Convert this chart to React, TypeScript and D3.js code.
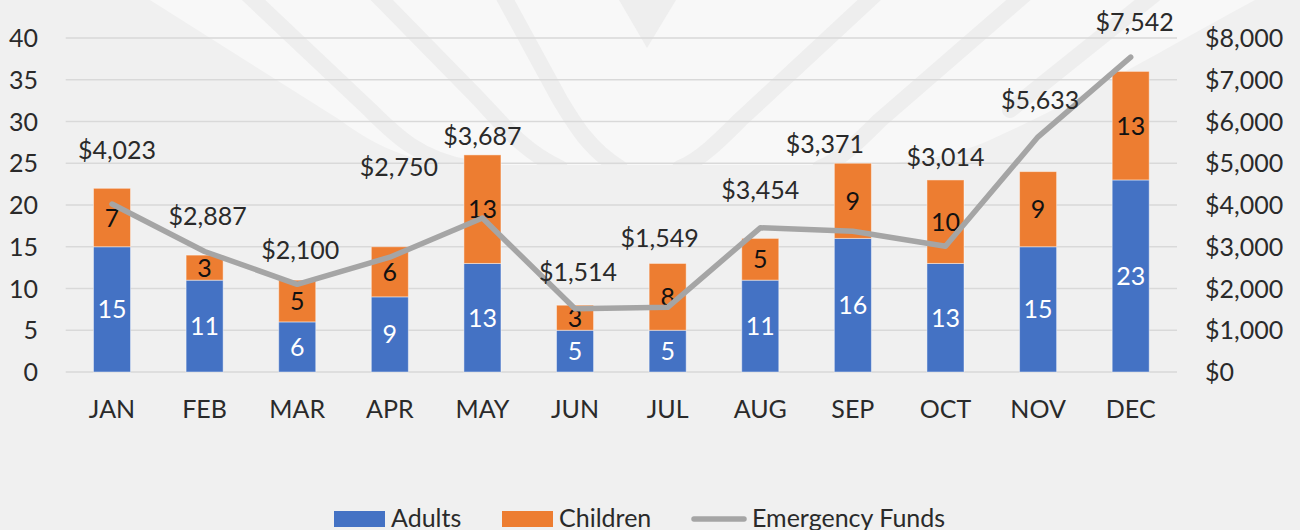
import React from "react";
import * as d3 from "d3";

const months = ["JAN", "FEB", "MAR", "APR", "MAY", "JUN", "JUL", "AUG", "SEP", "OCT", "NOV", "DEC"];
const adults = [15, 11, 6, 9, 13, 5, 5, 11, 16, 13, 15, 23];
const children = [7, 3, 5, 6, 13, 3, 8, 5, 9, 10, 9, 13];
const funds = [4023, 2887, 2100, 2750, 3687, 1514, 1549, 3454, 3371, 3014, 5633, 7542];
const leftTicks = [0, 5, 10, 15, 20, 25, 30, 35, 40];
const rightTicks = [0, 1000, 2000, 3000, 4000, 5000, 6000, 7000, 8000];
// manual label offsets (px) for the funds data labels
const fundLabelDx = [5, 3, 3, 9, 0, 3, -8, 0, -28, 0, 2, 4];
const fundLabelDy = [-54, -35, -34, -90, -82, -37, -69, -38, -87, -89, -37, -35];

const W = 1300;
const H = 530;
const FONT = "Lato, 'Open Sans', sans-serif";
const FW = 400;
const TXT = "#2a2a2a";
const BLUE = "#4472C4";
const ORANGE = "#ED7D31";
const GRAY = "#A5A5A5";

export default function App() {
  const x = d3.scaleBand<string>().domain(months).range([65.7, 1177]).paddingInner(0.6).paddingOuter(0.3);
  const yL = d3.scaleLinear().domain([0, 40]).range([372, 38]);
  const yR = d3.scaleLinear().domain([0, 8000]).range([372, 38]);
  const cx = (m: string) => (x(m) as number) + x.bandwidth() / 2;
  const line = d3
    .line<number>()
    .x((_, i) => cx(months[i]))
    .y((d) => yR(d));
  const fmt = (v: number) => "$" + d3.format(",")(v);
  const tp = { fontFamily: FONT, fontSize: 25, fontWeight: FW } as const;

  return (
    <svg width={W} height={H} style={{ position: "absolute", left: 0, top: 0, display: "block" }}>
      <defs>
        <clipPath id="wm">
          <path d="M150,0 L1255,0 C1180,40 1080,100 990,140 C950,158 900,165 850,165 L470,165 C420,165 380,150 340,120 Z" />
        </clipPath>
      </defs>
      <rect x={0} y={0} width={W} height={H} fill="#f0f0f0" />
      {/* watermark */}
      <g clipPath="url(#wm)">
        <rect x={0} y={0} width={W} height={200} fill="#f8f8f8" />
        <g stroke="#eeeeee" strokeWidth={16} fill="none" strokeLinecap="round">
          <path d="M243,-10 L370,110 C395,135 420,160 470,168" />
          <path d="M372,-10 L470,90 C500,120 520,150 560,168" />
          <path d="M500,-10 L560,100 C575,125 590,150 620,168" />
          <path d="M880,-10 L740,120 C720,140 700,160 680,168" />
          <path d="M1030,-10 L880,120 C860,140 840,160 820,168" />
          <path d="M1160,-10 L1010,110" />
        </g>
        <path d="M619,0 L676,0 L647,48 Z" fill="#eeeeee" />
      </g>

      {/* gridlines */}
      {leftTicks.map((t) => (
        <line key={t} x1={65.7} x2={1177} y1={yL(t)} y2={yL(t)} stroke="#d9d9d9" strokeWidth={1.6} />
      ))}

      {/* left axis labels */}
      {leftTicks.map((t) => (
        <text key={t} x={38} y={yL(t)} dy="0.36em" textAnchor="end" {...tp} fill={TXT}>
          {t}
        </text>
      ))}
      {/* right axis labels */}
      {rightTicks.map((t) => (
        <text key={t} x={1205} y={yR(t)} dy="0.36em" textAnchor="start" {...tp} fill={TXT}>
          {fmt(t)}
        </text>
      ))}

      {/* bars */}
      {months.map((m, i) => (
        <g key={m}>
          <rect
            x={x(m)}
            y={yL(adults[i])}
            width={x.bandwidth()}
            height={yL(0) - yL(adults[i])}
            fill={BLUE}
            stroke="rgba(255,255,255,0.45)"
            strokeWidth={1}
          />
          <rect
            x={x(m)}
            y={yL(adults[i] + children[i])}
            width={x.bandwidth()}
            height={yL(adults[i]) - yL(adults[i] + children[i])}
            fill={ORANGE}
            stroke="rgba(255,255,255,0.45)"
            strokeWidth={1}
          />
        </g>
      ))}

      {/* category labels */}
      {months.map((m) => (
        <text key={m} x={cx(m)} y={418} textAnchor="middle" {...tp} fill={TXT}>
          {m}
        </text>
      ))}

      {/* bar value labels */}
      {months.map((m, i) => (
        <g key={m}>
          <text x={cx(m)} y={(yL(0) + yL(adults[i])) / 2} dy="0.36em" textAnchor="middle" {...tp} fill="#ffffff">
            {adults[i]}
          </text>
          <text
            x={cx(m)}
            y={(yL(adults[i]) + yL(adults[i] + children[i])) / 2}
            dy="0.36em"
            textAnchor="middle"
            {...tp}
            fill="#111111"
          >
            {children[i]}
          </text>
        </g>
      ))}

      {/* funds line */}
      <path d={line(funds) || ""} fill="none" stroke={GRAY} strokeWidth={5.5} strokeLinejoin="round" strokeLinecap="round" />

      {/* funds labels */}
      {months.map((m, i) => (
        <text
          key={m}
          x={cx(m) + fundLabelDx[i]}
          y={yR(funds[i]) + fundLabelDy[i]}
          dy="0.36em"
          textAnchor="middle"
          {...tp}
          fill={TXT}
        >
          {fmt(funds[i])}
        </text>
      ))}

      {/* legend */}
      <rect x={334} y={511} width={51} height={16} fill={BLUE} />
      <text x={391} y={527} {...tp} fill={TXT}>Adults</text>
      <rect x={502} y={511} width={51} height={16} fill={ORANGE} />
      <text x={559} y={527} {...tp} fill={TXT}>Children</text>
      <line x1={694} x2={744} y1={519} y2={519} stroke={GRAY} strokeWidth={5.5} strokeLinecap="round" />
      <text x={752} y={527} {...tp} fill={TXT}>Emergency Funds</text>
    </svg>
  );
}
